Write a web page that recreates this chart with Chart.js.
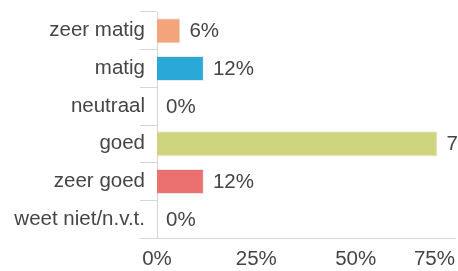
<!DOCTYPE html>
<html>
<head>
<meta charset="utf-8">
<script src="https://cdn.jsdelivr.net/npm/chart.js@4/dist/chart.umd.min.js"></script>
<style>
  html, body { margin: 0; padding: 0; background: #fff; overflow: hidden; }
  #wrap { width: 458px; height: 271px; }
</style>
</head>
<body>
<div id="wrap"><canvas id="chart" width="458" height="271"></canvas></div>
<script>
"use strict";

// answers (n = 17), share in percent
const CATEGORIES = ['zeer matig', 'matig', 'neutraal', 'goed', 'zeer goed', 'weet niet/n.v.t.'];
const SHARES = [5.9, 11.8, 0, 70.6, 11.8, 0];
const BAR_COLORS = ['#f3a47b', '#2aa8d8', '#c2cc6a', '#cfd57e', '#eb7171', '#cccccc'];
const X_TICKS = [0, 25, 50, 75];

const INK = '#454545', RULE = '#d6d6d6';
const FONT = {family: "'Liberation Sans', Arial, sans-serif", size: 20.5};

// value labels at the end of each bar
const valueLabels = {
  id: 'valueLabels',
  afterDatasetsDraw(chart) {
    const ctx = chart.ctx;
    const meta = chart.getDatasetMeta(0);
    ctx.save();
    ctx.font = FONT.size + 'px ' + FONT.family;
    ctx.fillStyle = INK;
    ctx.textAlign = 'left';
    ctx.textBaseline = 'middle';
    meta.data.forEach((bar, i) => {
      ctx.fillText(Math.round(SHARES[i]) + '%', bar.x + 9, bar.y + 1);
    });
    ctx.restore();
  }
};

// only the last x label is pulled inside; the first one stays centred on 0
const centreFirstTick = {
  id: 'centreFirstTick',
  beforeDraw(chart) {
    const items = chart.scales.x.getLabelItems(chart.chartArea);
    if (items.length) items[0].options.textAlign = 'center';
  }
};

new Chart(document.getElementById('chart'), {
  type: 'bar',
  data: {
    labels: CATEGORIES,
    datasets: [{
      data: SHARES,
      backgroundColor: BAR_COLORS,
      borderColor: 'rgba(0,0,0,0.08)',
      borderWidth: 1,
      borderSkipped: 'start',
      barPercentage: 0.9,
      categoryPercentage: 0.74,
    }]
  },
  plugins: [valueLabels, centreFirstTick],
  options: {
    indexAxis: 'y',
    responsive: false,
    animation: false,
    devicePixelRatio: 1,
    layout: {padding: {top: 12, right: 3, left: 0, bottom: 0}},
    plugins: {legend: {display: false}, tooltip: {enabled: false}},
    scales: {
      y: {
        grid: {offset: true, drawOnChartArea: false, drawTicks: true, tickLength: 17, color: RULE},
        border: {display: true, color: RULE},
        ticks: {color: INK, font: FONT, padding: -5, autoSkip: false},
        afterFit: s => { s.width = 157; }
      },
      x: {
        min: 0, max: 75,
        afterBuildTicks: s => { s.ticks = X_TICKS.map(v => ({value: v})); },
        grid: {display: false, drawTicks: false},
        border: {display: true, color: RULE},
        ticks: {color: INK, font: FONT, padding: 9, align: 'inner', callback: v => v + '%'},
        afterFit: s => { s.height = 33; s.paddingLeft = 0; s.paddingRight = 0; }
      }
    }
  }
});
</script>
</body>
</html>
